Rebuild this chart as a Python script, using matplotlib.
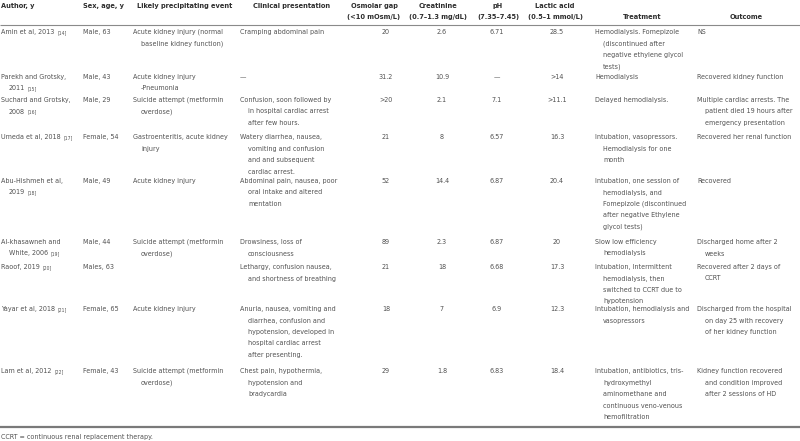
import matplotlib
matplotlib.use("Agg")
import matplotlib.pyplot as plt
from matplotlib import font_manager

# ---------------- data ----------------
headers = ["Author, y", "Sex, age, y", "Likely precipitating event", "Clinical presentation",
           "Osmolar gap\n(<10 mOsm/L)", "Creatinine\n(0.7–1.3 mg/dL)", "pH\n(7.35–7.45)",
           "Lactic acid\n(0.5–1 mmol/L)", "Treatment", "Outcome"]

authors = ["Amin et al, 2013", "Parekh and Grotsky,\n2011", "Suchard and Grotsky,\n2008",
           "Umeda et al, 2018", "Abu-Hishmeh et al,\n2019", "Al-khasawneh and\nWhite, 2006",
           "Raoof, 2019", "Yayar et al, 2018", "Lam et al, 2012"]
refs = ["[14]", "[15]", "[16]", "[17]", "[18]", "[19]", "[20]", "[21]", "[22]"]
sex_age = ["Male, 63", "Male, 43", "Male, 29", "Female, 54", "Male, 49", "Male, 44",
           "Males, 63", "Female, 65", "Female, 43"]
events = ["Acute kidney injury (normal\nbaseline kidney function)",
          "Acute kidney injury\n-Pneumonia",
          "Suicide attempt (metformin\noverdose)",
          "Gastroenteritis, acute kidney\ninjury",
          "Acute kidney injury",
          "Suicide attempt (metformin\noverdose)",
          "",
          "Acute kidney injury",
          "Suicide attempt (metformin\noverdose)"]
clinical = ["Cramping abdominal pain",
            "—",
            "Confusion, soon followed by\nin hospital cardiac arrest\nafter few hours.",
            "Watery diarrhea, nausea,\nvomiting and confusion\nand and subsequent\ncardiac arrest.",
            "Abdominal pain, nausea, poor\noral intake and altered\nmentation",
            "Drowsiness, loss of\nconsciousness",
            "Lethargy, confusion nausea,\nand shortness of breathing",
            "Anuria, nausea, vomiting and\ndiarrhea, confusion and\nhypotension, developed in\nhospital cardiac arrest\nafter presenting.",
            "Chest pain, hypothermia,\nhypotension and\nbradycardia"]
osmolar = ["20", "31.2", ">20", "21", "52", "89", "21", "18", "29"]
creatinine = ["2.6", "10.9", "2.1", "8", "14.4", "2.3", "18", "7", "1.8"]
ph = ["6.71", "—", "7.1", "6.57", "6.87", "6.87", "6.68", "6.9", "6.83"]
lactic = ["28.5", ">14", ">11.1", "16.3", "20.4", "20", "17.3", "12.3", "18.4"]
treatment = ["Hemodialysis. Fomepizole\n(discontinued after\nnegative ethylene glycol\ntests)",
             "Hemodialysis",
             "Delayed hemodialysis.",
             "Intubation, vasopressors.\nHemodialysis for one\nmonth",
             "Intubation, one session of\nhemodialysis, and\nFomepizole (discontinued\nafter negative Ethylene\nglycol tests)",
             "Slow low efficiency\nhemodialysis",
             "Intubation, Intermittent\nhemodialysis, then\nswitched to CCRT due to\nhypotension",
             "Intubation, hemodialysis and\nvasopressors",
             "Intubation, antibiotics, tris-\nhydroxymethyl\naminomethane and\ncontinuous veno-venous\nhemofiltration"]
outcome = ["NS",
           "Recovered kidney function",
           "Multiple cardiac arrests. The\npatient died 19 hours after\nemergency presentation",
           "Recovered her renal function",
           "Recovered",
           "Discharged home after 2\nweeks",
           "Recovered after 2 days of\nCCRT",
           "Discharged from the hospital\non day 25 with recovery\nof her kidney function",
           "Kidney function recovered\nand condition improved\nafter 2 sessions of HD"]
footnote = "CCRT = continuous renal replacement therapy."

# ---------------- layout (pixel units) ----------------
W, H = 800, 441
names = {f.name for f in font_manager.fontManager.ttflist}
condensed = any(f.name == "DejaVu Sans" and "Condensed" in f.fname
                for f in font_manager.fontManager.ttflist)
if "Liberation Sans Narrow" in names:
    FAM, STRETCH = "Liberation Sans Narrow", "normal"
elif "DejaVu Sans Condensed" in names:
    FAM, STRETCH = "DejaVu Sans Condensed", "normal"
elif condensed:
    FAM, STRETCH = "DejaVu Sans", "condensed"
else:
    FAM, STRETCH = "DejaVu Sans", "normal"

BODY = "#525252"
HEAD = "#2e2e2e"
LINE_H = 11.5
INDENT = 8

fig = plt.figure(figsize=(W / 100, H / 100), dpi=100)
ax = fig.add_axes([0, 0, 1, 1])
ax.set_xlim(0, W)
ax.set_ylim(H, 0)
ax.axis("off")
renderer = fig.canvas.get_renderer()


def fit_size(sample, target_px, weight="normal"):
    t = ax.text(0, 0, sample, fontsize=10, family=FAM, fontstretch=STRETCH, fontweight=weight)
    w = t.get_window_extent(renderer).width
    t.remove()
    return 10 * target_px / w


FS = fit_size("Intubation, hemodialysis and", 93)
FSH = fit_size("Likely precipitating event", 95, "bold")
FSF = fit_size(footnote, 150)

col_left = [1, 83, 133, 240, None, None, None, None, 595, 697]
col_center = [None, None, None, None, 386, 442, 497, 557, None, None]
head_pos = [("left", 1, 1), ("left", 83, 1), ("left", 137, 1), ("center", 292, 1),
            ("center", 374, 1), ("center", 438, 1), ("center", 498, 1), ("center", 555, 1),
            ("center", 642, 2), ("center", 746, 2)]
head_y = [6, 17]
row_y = [32, 77, 100, 137, 181, 242, 267, 309, 371]

# header
for (ha, x, row), h in zip(head_pos, headers):
    lines = h.split("\n")
    start = head_y[0] if len(lines) == 2 else head_y[row - 1]
    for k, ln in enumerate(lines):
        ax.text(x, start + k * 11, ln, ha=ha, va="center", fontsize=FSH,
                fontweight="bold", family=FAM, fontstretch=STRETCH, color=HEAD)

ax.plot([0, W], [24.5, 24.5], color="#8a8a8a", lw=0.8, solid_capstyle="butt")


def draw_left(x, y, txt):
    last = None
    for k, ln in enumerate(txt.split("\n")):
        if not ln:
            continue
        last = ax.text(x + (INDENT if k else 0), y + k * LINE_H, ln, ha="left", va="center",
                       fontsize=FS, family=FAM, fontstretch=STRETCH, color=BODY)
    return last


columns = [authors, sex_age, events, clinical, osmolar, creatinine, ph, lactic, treatment, outcome]
for i, y in enumerate(row_y):
    for c, col in enumerate(columns):
        txt = col[i]
        if col_left[c] is not None:
            t = draw_left(col_left[c], y, txt)
            if c == 0:
                ax.annotate(refs[i], xy=(1, 1), xycoords=t, xytext=(2.0, -0.8),
                            textcoords="offset points", ha="left", va="top",
                            fontsize=FS * 0.7, family=FAM, fontstretch=STRETCH, color=BODY)
        else:
            ax.text(col_center[c], y, txt, ha="center", va="center", fontsize=FS,
                    family=FAM, fontstretch=STRETCH, color=BODY)

ax.plot([0, W], [427, 427], color="#7a7a7a", lw=1.6, solid_capstyle="butt")
ax.text(1, 437.5, footnote, ha="left", va="center", fontsize=FSF, family=FAM,
        fontstretch=STRETCH, color=BODY)

fig.savefig("out.png", dpi=100)
